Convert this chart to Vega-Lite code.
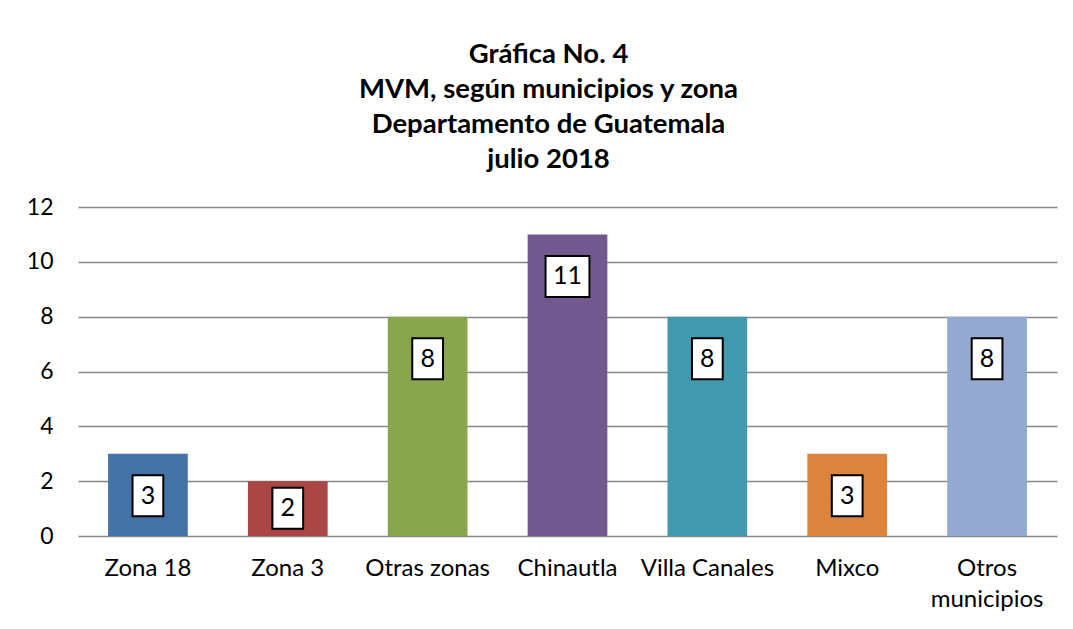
{
  "$schema": "https://vega.github.io/schema/vega-lite/v6.json",
  "width": 979,
  "height": 329,
  "autosize": {"type": "none"},
  "padding": {"left": 78, "top": 207, "right": 16, "bottom": 93},
  "background": "white",
  "config": {"view": {"stroke": null}},
  "title": {
    "text": ["Gráfica No. 4", "MVM, según municipios y zona", "Departamento de Guatemala", "julio 2018"],
    "font": "Lato", "fontSize": 27.5, "fontWeight": "bold", "color": "black",
    "lineHeight": 35, "anchor": "middle", "frame": "group", "offset": 23, "dx": -19
  },
  "data": {"values": [
    {"zona": "Zona 18", "value": 3},
    {"zona": "Zona 3", "value": 2},
    {"zona": "Otras zonas", "value": 8},
    {"zona": "Chinautla", "value": 11},
    {"zona": "Villa Canales", "value": 8},
    {"zona": "Mixco", "value": 3},
    {"zona": "Otros municipios", "value": 8}
  ]},
  "encoding": {
    "x": {
      "field": "zona", "type": "nominal", "sort": null,
      "scale": {"paddingInner": 0.43, "paddingOuter": 0.215},
      "axis": {
        "title": null, "domain": false, "ticks": false, "labelAngle": 0,
        "labelFont": "Lato", "labelFontSize": 24, "labelColor": "black",
        "labelPadding": 20, "labelLineHeight": 31,
        "labelExpr": "datum.label == 'Otros municipios' ? ['Otros', 'municipios'] : datum.label"
      }
    }
  },
  "layer": [
    {
      "mark": {"type": "bar"},
      "encoding": {
        "y": {
          "field": "value", "type": "quantitative",
          "scale": {"domain": [0, 12]},
          "axis": {
            "title": null, "domain": false, "ticks": false, "grid": true,
            "gridColor": "#868686", "gridWidth": 1.5,
            "values": [0, 2, 4, 6, 8, 10, 12],
            "labelFont": "Lato", "labelFontSize": 23, "labelColor": "black", "labelPadding": 25
          }
        },
        "color": {
          "field": "zona", "type": "nominal", "legend": null,
          "scale": {
            "domain": ["Zona 18", "Zona 3", "Otras zonas", "Chinautla", "Villa Canales", "Mixco", "Otros municipios"],
            "range": ["#4572A7", "#AA4643", "#89A54E", "#71588F", "#4198AF", "#DB843D", "#93A9CF"]
          }
        }
      }
    },
    {
      "transform": [{"filter": "datum.value >= 3"}],
      "layer": [
        {
          "mark": {"type": "point", "filled": true, "color": "white", "stroke": "black", "strokeWidth": 2, "opacity": 1, "size": 1681},
          "encoding": {
            "y": {"field": "value", "type": "quantitative"},
            "yOffset": {"value": 42},
            "shape": {
              "condition": {"test": "datum.value >= 10", "value": "M-1.07,-1L1.07,-1L1.07,1L-1.07,1Z"},
              "value": "M-0.75,-1L0.75,-1L0.75,1L-0.75,1Z"
            }
          }
        },
        {
          "mark": {"type": "text", "font": "Lato", "fontSize": 25, "color": "black", "baseline": "middle"},
          "encoding": {
            "y": {"field": "value", "type": "quantitative"},
            "yOffset": {"value": 42},
            "text": {"field": "value", "type": "quantitative"}
          }
        }
      ]
    },
    {
      "transform": [{"filter": "datum.value < 3"}],
      "layer": [
        {
          "mark": {"type": "point", "filled": true, "color": "white", "stroke": "black", "strokeWidth": 2, "opacity": 1, "size": 1681, "shape": "M-0.75,-1L0.75,-1L0.75,1L-0.75,1Z"},
          "encoding": {
            "y": {"field": "value", "type": "quantitative"},
            "yOffset": {"value": 27}
          }
        },
        {
          "mark": {"type": "text", "font": "Lato", "fontSize": 25, "color": "black", "baseline": "middle"},
          "encoding": {
            "y": {"field": "value", "type": "quantitative"},
            "yOffset": {"value": 27},
            "text": {"field": "value", "type": "quantitative"}
          }
        }
      ]
    }
  ]
}
